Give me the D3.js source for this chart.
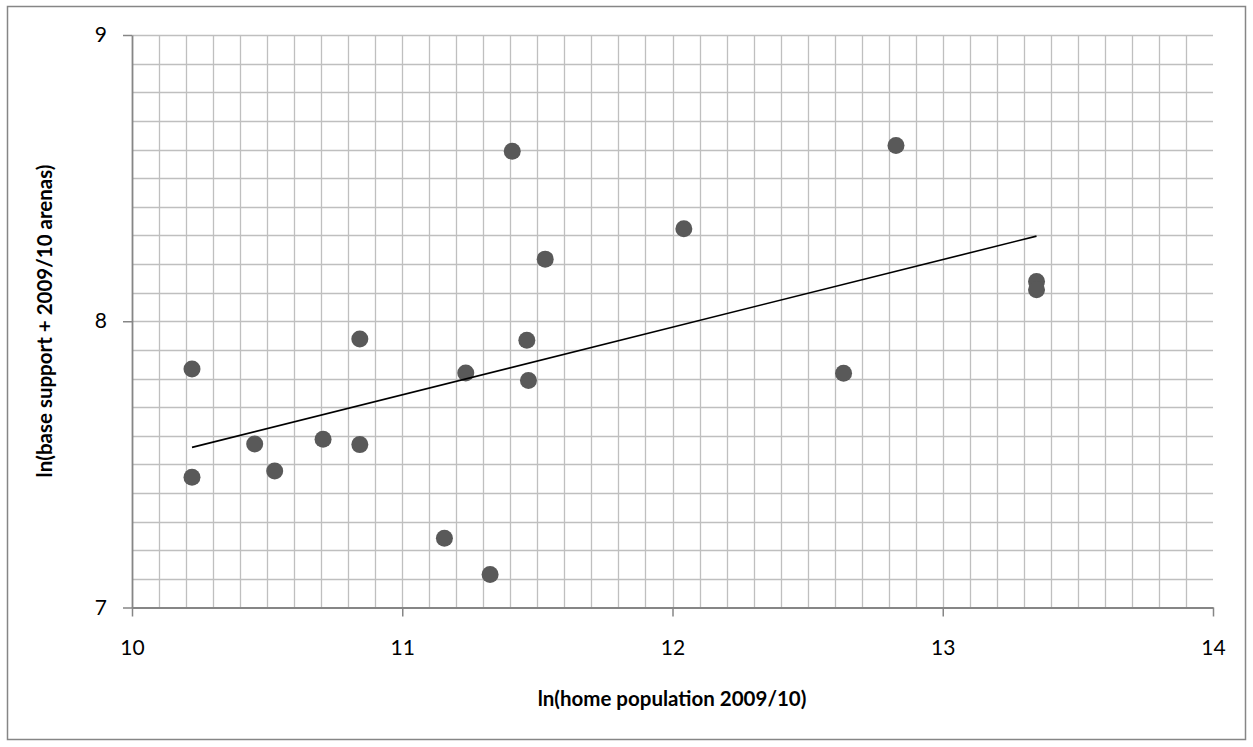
<!DOCTYPE html>
<html>
<head>
<meta charset="utf-8">
<script src="https://cdn.jsdelivr.net/npm/d3@7"></script>
<style>
  body { margin: 0; background: #fff; }
  svg { display: block; font-family: Lato, "Open Sans", sans-serif; }
</style>
</head>
<body>
<div id="chart"></div>
<script>
// ln(home population 2009/10)
const homePop = [10.222, 10.222, 10.454, 10.528, 10.707, 10.843, 10.843, 11.156, 11.235, 11.325,
  11.407, 11.461, 11.467, 11.529, 12.042, 12.633, 12.827, 13.347, 13.347];
// ln(base support + 2009/10 arenas)
const baseSupport = [7.833, 7.455, 7.571, 7.477, 7.588, 7.938, 7.569, 7.242, 7.819, 7.115,
  8.594, 7.934, 7.793, 8.217, 8.323, 7.818, 8.614, 8.139, 8.110];
const xTicks = [10, 11, 12, 13, 14];
const yTicks = [7, 8, 9];

const W = 1253, H = 747;
const margin = { top: 35, right: 40, bottom: 140, left: 132 };
const width = 1213 - margin.left;
const height = 607.5 - margin.top;

const svg = d3.select('#chart').append('svg')
  .attr('width', W)
  .attr('height', H);

svg.append('rect')
  .attr('x', 7.5).attr('y', 6.5)
  .attr('width', 1238).attr('height', 733)
  .attr('fill', '#fff')
  .attr('stroke', '#868686')
  .attr('stroke-width', 1.5);

const chart = svg.append('g')
  .attr('transform', `translate(${margin.left}, ${margin.top})`);

const x = d3.scaleLinear().domain([10, 14]).range([0, width]);
const y = d3.scaleLinear().domain([7, 9]).range([height, 0]);

// gridlines every 0.1
const gx = d3.range(1, 40).map(i => 10 + i * 0.1);
const gy = d3.range(1, 21).map(i => 7 + i * 0.1);

chart.append('g').selectAll('line')
  .data(gx)
  .enter().append('line')
  .attr('x1', d => Math.round(x(d)) + 0.5).attr('x2', d => Math.round(x(d)) + 0.5)
  .attr('y1', 0).attr('y2', height)
  .attr('stroke', '#bfbfbf').attr('stroke-width', 1.3);

chart.append('g').selectAll('line')
  .data(gy)
  .enter().append('line')
  .attr('y1', d => Math.round(y(d)) + 0.5).attr('y2', d => Math.round(y(d)) + 0.5)
  .attr('x1', 0).attr('x2', width)
  .attr('stroke', '#bfbfbf').attr('stroke-width', 1.3);

const xAxis = d3.axisBottom(x).tickValues(xTicks).tickFormat(d3.format('d'))
  .tickSize(9).tickSizeOuter(0).tickPadding(24);
const yAxis = d3.axisLeft(y).tickValues(yTicks).tickFormat(d3.format('d'))
  .tickSize(9).tickSizeOuter(0).tickPadding(16);

const gX = chart.append('g')
  .attr('transform', `translate(0, ${height})`)
  .call(xAxis);
const gY = chart.append('g').call(yAxis);

[gX, gY].forEach(g => {
  g.attr('font-size', null).attr('font-family', null);
  g.select('.domain').attr('stroke', '#868686').attr('stroke-width', 1.8);
  g.selectAll('.tick line').attr('stroke', '#868686').attr('stroke-width', 1.5);
  g.selectAll('.tick text')
    .attr('fill', '#000')
    .style('font-size', '21px');
});

// trendline (least squares, over data range)
const mx = d3.mean(homePop), my = d3.mean(baseSupport);
const slope = d3.sum(homePop, (v, i) => (v - mx) * (baseSupport[i] - my)) /
  d3.sum(homePop, v => (v - mx) * (v - mx));
const icpt = my - slope * mx;
const [x0, x1] = d3.extent(homePop);

const pts = homePop.map((v, i) => ({ x: v, y: baseSupport[i] }));

chart.selectAll('.dot')
  .data(pts)
  .enter().append('circle')
  .attr('class', 'dot')
  .attr('cx', d => x(d.x))
  .attr('cy', d => y(d.y))
  .attr('r', 8.5)
  .attr('fill', '#595959');

chart.append('line')
  .attr('x1', x(x0)).attr('y1', y(icpt + slope * x0))
  .attr('x2', x(x1)).attr('y2', y(icpt + slope * x1))
  .attr('stroke', '#000')
  .attr('stroke-width', 1.6);

svg.append('text')
  .attr('x', 672).attr('y', 706)
  .attr('text-anchor', 'middle')
  .style('font-size', '20.5px')
  .style('font-weight', 'bold')
  .text('ln(home population 2009/10)');

svg.append('text')
  .attr('transform', 'translate(52, 321) rotate(-90)')
  .attr('text-anchor', 'middle')
  .style('font-size', '20.5px')
  .style('font-weight', 'bold')
  .text('ln(base support + 2009/10 arenas)');
</script>
</body>
</html>
